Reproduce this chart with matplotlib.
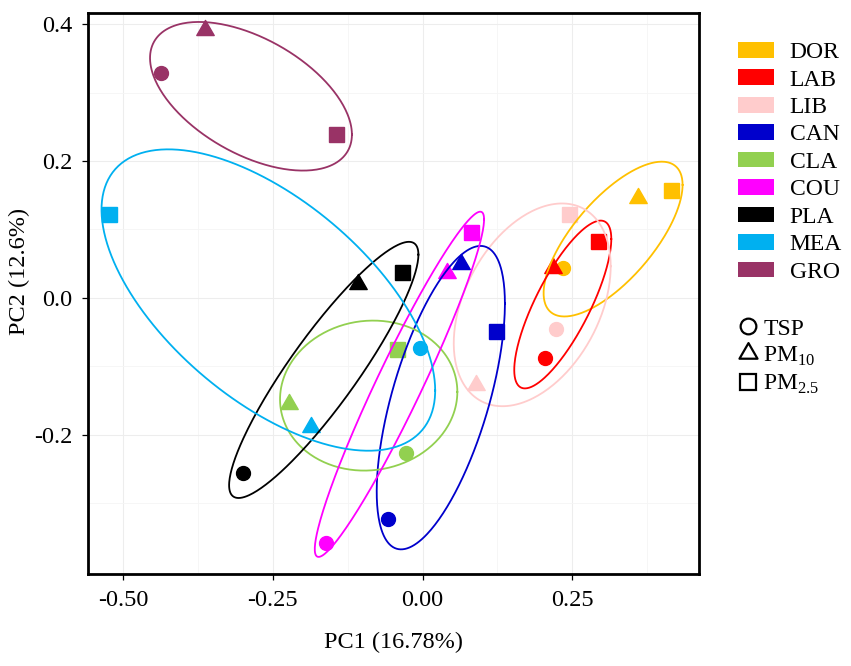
import numpy as np
import matplotlib
matplotlib.use("Agg")
import matplotlib.pyplot as plt
from matplotlib.lines import Line2D
from matplotlib.patches import Patch
from matplotlib.path import Path

plt.rcParams['font.family'] = ['Liberation Serif', 'DejaVu Serif']
plt.rcParams['mathtext.fontset'] = 'custom'
plt.rcParams['mathtext.rm'] = 'Liberation Serif'

groups = ["DOR", "LAB", "LIB", "CAN", "CLA", "COU", "PLA", "MEA", "GRO"]
colors = ["#FFC000", "#FF0000", "#FFCCCC", "#0000CC", "#92D050",
          "#FF00FF", "#000000", "#00B0F0", "#993366"]

# PCA scores per fraction (PC1, PC2), one value per group
tsp_x = [0.234, 0.204, 0.223, -0.057, -0.028, -0.161, -0.300, -0.004, -0.437]
tsp_y = [0.044, -0.087, -0.045, -0.322, -0.226, -0.358, -0.255, -0.073, 0.328]
pm10_x = [0.360, 0.218, 0.089, 0.064, -0.223, 0.041, -0.107, -0.186, -0.363]
pm10_y = [0.146, 0.044, -0.127, 0.050, -0.155, 0.036, 0.020, -0.188, 0.391]
pm25_x = [0.415, 0.293, 0.245, 0.123, -0.042, 0.081, -0.034, -0.523, -0.145]
pm25_y = [0.158, 0.083, 0.123, -0.048, -0.074, 0.097, 0.038, 0.123, 0.239]

# ellipse per group: centre, half extents along PC1/PC2, correlation (tilt)
ell_cx = [0.318, 0.234, 0.183, 0.0304, -0.090, -0.0387, -0.165, -0.2575, -0.2865]
ell_cy = [0.086, -0.0095, -0.010, -0.1455, -0.1425, -0.126, -0.105, -0.003, 0.2945]
ell_sx = [0.116, 0.081, 0.131, 0.107, 0.148, 0.1413, 0.158, 0.2785, 0.1685]
ell_sy = [0.113, 0.1225, 0.148, 0.2215, 0.1095, 0.252, 0.187, 0.220, 0.1085]
ell_rho = [0.70, 0.78, 0.38, 0.62, 0.05, 0.955, 0.90, -0.60, -0.515]

fractions = ["TSP", r"PM$_{10}$", r"PM$_{2.5}$"]

# equilateral triangle like ggplot's shape 17 / 2
tri = Path([(0, 1), (-0.866, -0.5), (0.866, -0.5), (0, 1)], closed=True)

fig = plt.figure(figsize=(8.51, 6.66), dpi=100)
ax = fig.add_axes([0.1038, 0.1381, 0.718, 0.8419])

for i in range(len(groups)):
    c = colors[i]
    ax.plot(pm10_x[i], pm10_y[i], marker=tri, ms=14.5, color=c, ls='none', zorder=3)
    ax.plot(pm25_x[i], pm25_y[i], marker='s', ms=10.8, color=c, ls='none', zorder=3)
    ax.plot(tsp_x[i], tsp_y[i], marker='o', ms=10, color=c, ls='none', zorder=3)

t = np.linspace(0, 2 * np.pi, 300)
for i in range(len(groups)):
    r = ell_rho[i]
    ex = ell_cx[i] + ell_sx[i] * np.cos(t)
    ey = ell_cy[i] + ell_sy[i] * (r * np.cos(t) + np.sqrt(1 - r * r) * np.sin(t))
    ax.plot(ex, ey, color=colors[i], lw=1.3, zorder=4)

ax.set_xlim(-0.558, 0.462)
ax.set_ylim(-0.403, 0.4156)
ax.set_xticks([-0.5, -0.25, 0.0, 0.25])
ax.set_xticklabels(["-0.50", "-0.25", "0.00", "0.25"])
ax.set_yticks([-0.2, 0.0, 0.2, 0.4])
ax.set_yticklabels(["-0.2", "0.0", "0.2", "0.4"])
ax.set_xticks([-0.375, -0.125, 0.125, 0.375], minor=True)
ax.set_yticks([-0.3, -0.1, 0.1, 0.3], minor=True)
ax.grid(True, which='major', color='#EDEDED', lw=0.8, zorder=0)
ax.grid(True, which='minor', color='#F5F5F5', lw=0.6, zorder=0)
ax.set_axisbelow(True)
ax.tick_params(which='major', length=4.5, width=0.9, labelsize=17.5, pad=7)
ax.tick_params(which='minor', length=0)
for s in ax.spines.values():
    s.set_linewidth(2)

ax.set_xlabel("PC1 (16.78%)", fontsize=17.5, labelpad=15)
ax.set_ylabel("PC2 (12.6%)", fontsize=17.5, labelpad=12)
ax.yaxis.set_label_coords(-0.095, 0.54)

col_handles = [Patch(facecolor=c, edgecolor='none') for c in colors]
leg1 = fig.legend(col_handles, groups, loc='upper left',
                  bbox_to_anchor=(0.867, 0.937), frameon=False, fontsize=17,
                  handlelength=1.55, handleheight=0.64, handletextpad=0.65,
                  labelspacing=0.27, borderpad=0, borderaxespad=0)

shp_handles = [
    Line2D([], [], marker='o', ms=11.3, mfc='none', mec='black', mew=1.6, ls='none'),
    Line2D([], [], marker=tri, ms=15, mfc='none', mec='black', mew=1.6, ls='none'),
    Line2D([], [], marker='s', ms=11.5, mfc='none', mec='black', mew=1.6, ls='none'),
]
leg2 = fig.legend(shp_handles, fractions, loc='upper left',
                  bbox_to_anchor=(0.868, 0.5225), frameon=False, fontsize=17,
                  handlelength=0.8, handletextpad=0.25, labelspacing=0.22,
                  borderpad=0, borderaxespad=0)

fig.savefig("out.png", dpi=100)
